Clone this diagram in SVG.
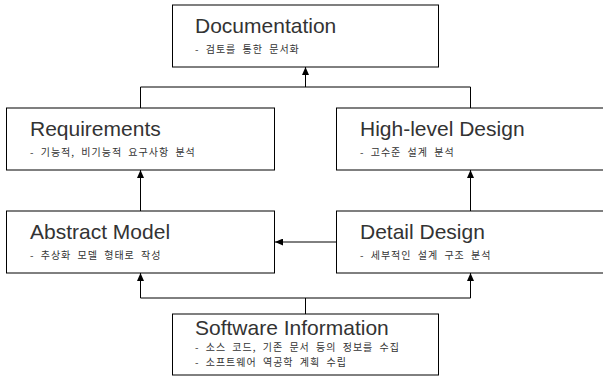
<svg xmlns="http://www.w3.org/2000/svg" width="603" height="380" viewBox="0 0 603 380">
<style>
.box{fill:#fff;stroke:#000;stroke-width:1}
.t{font-family:"Liberation Sans",Arial,sans-serif;font-size:21px;fill:#333}
.s{font-family:"Noto Sans CJK KR","Noto Sans",sans-serif;font-size:10px;fill:#333;letter-spacing:1px;word-spacing:3px}
.c{fill:none;stroke:#000;stroke-width:1}
</style>
<defs>
<marker id="ah" viewBox="0 0 8 7" refX="8" refY="3.5" markerWidth="8" markerHeight="7" markerUnits="userSpaceOnUse" orient="auto">
<path d="M0,0 L8,3.5 L0,7 z" fill="#000"/>
</marker>
</defs>
<rect width="603" height="380" fill="#fff"/>
<g id="connectors">
<path class="c" d="M140.5,108 V87 H470.5 V108"/>
<path class="c" d="M305.5,87 V67" marker-end="url(#ah)"/>
<path class="c" d="M140.5,211 V170" marker-end="url(#ah)"/>
<path class="c" d="M470.5,211 V170" marker-end="url(#ah)"/>
<path class="c" d="M336,242 H275" marker-end="url(#ah)"/>
<path class="c" d="M305.5,314 V298"/>
<path class="c" d="M140.5,298 H470.5"/>
<path class="c" d="M140.5,298 V273" marker-end="url(#ah)"/>
<path class="c" d="M470.5,298 V273" marker-end="url(#ah)"/>
</g>
<g id="documentation">
<rect class="box" x="172.5" y="5" width="266" height="62"/>
<text class="t" x="195" y="33">Documentation</text>
<text class="s" x="195" y="53">- 검토를 통한 문서화</text>
</g>
<g id="requirements">
<rect class="box" x="6.5" y="108" width="268" height="62"/>
<text class="t" x="30" y="136">Requirements</text>
<text class="s" x="30" y="156">- 기능적, 비기능적 요구사항 분석</text>
</g>
<g id="high-level-design">
<rect class="box" x="336.5" y="108" width="268" height="62"/>
<text class="t" x="360" y="136">High-level Design</text>
<text class="s" x="360" y="156">- 고수준 설계 분석</text>
</g>
<g id="abstract-model">
<rect class="box" x="6.5" y="211" width="268" height="62"/>
<text class="t" x="30" y="239">Abstract Model</text>
<text class="s" x="30" y="259">- 추상화 모델 형태로 작성</text>
</g>
<g id="detail-design">
<rect class="box" x="336.5" y="211" width="268" height="62"/>
<text class="t" x="360" y="239">Detail Design</text>
<text class="s" x="360" y="259">- 세부적인 설계 구조 분석</text>
</g>
<g id="software-information">
<rect class="box" x="172.5" y="314" width="266" height="61"/>
<text class="t" x="195" y="335">Software Information</text>
<text class="s" x="195" y="351">- 소스 코드, 기존 문서 등의 정보를 수집</text>
<text class="s" x="195" y="366">- 소프트웨어 역공학 계획 수립</text>
</g>
</svg>
